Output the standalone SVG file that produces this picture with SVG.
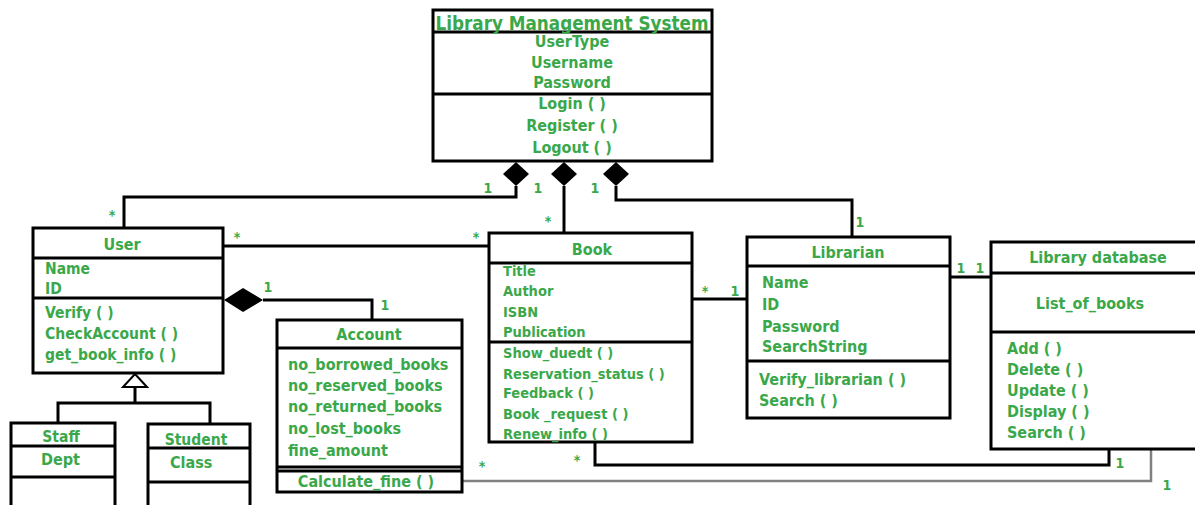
<svg xmlns="http://www.w3.org/2000/svg" width="1195" height="505" viewBox="0 0 1195 505">
<style>
.box{fill:#fff;stroke:#000;stroke-width:3}
.dv{stroke:#000;stroke-width:3}
.t{font-family:"DejaVu Sans Condensed","DejaVu Sans",sans-serif;font-weight:bold;font-size:16px;fill:#3aa84a}
.c{text-anchor:middle}
.m{font-size:14px}
.s{font-size:15.5px}
.b{font-size:14.5px}
.conn{fill:none;stroke:#000;stroke-width:3}
.gray{fill:none;stroke:#808080;stroke-width:2.5}
.dia{fill:#000}
.tri{fill:#fff;stroke:#000;stroke-width:2}
</style>
<rect width="1195" height="505" fill="#fff"/>
<g id="connectors">
<path class="conn" d="M516,186 V197 H124 V228"/>
<path class="conn" d="M564,186 V233"/>
<path class="conn" d="M616,186 V200 H852 V237"/>
<path class="conn" d="M223,246 H489"/>
<path class="conn" d="M263,300 H372 V320"/>
<path class="conn" d="M692,299 H747"/>
<path class="conn" d="M950,277 H991"/>
<path class="conn" d="M595,442 V465 H1109 V450"/>
<path class="gray" d="M462,481 H1151 V450"/>
<path class="conn" d="M135,387 V403"/>
<path class="conn" d="M58,423 V403 H210 V424"/>
<path class="dia" d="M516,162 L529,174 L516,186 L503,174 Z"/>
<path class="dia" d="M564,162 L577,174 L564,186 L551,174 Z"/>
<path class="dia" d="M616,162 L629,174 L616,186 L603,174 Z"/>
<path class="dia" d="M224,300 L243,288 L263,300 L243,312 Z"/>
<path class="tri" d="M135,374 L147,387 L123,387 Z"/>
<g class="t m c">
<text x="112" y="220">*</text>
<text x="488" y="193">1</text>
<text x="538" y="193">1</text>
<text x="595" y="193">1</text>
<text x="548" y="226">*</text>
<text x="860" y="227">1</text>
<text x="237" y="242">*</text>
<text x="476" y="242">*</text>
<text x="268" y="292">1</text>
<text x="385" y="310">1</text>
<text x="705" y="296">*</text>
<text x="735" y="296">1</text>
<text x="961" y="273">1</text>
<text x="980" y="273">1</text>
<text x="1120" y="468">1</text>
<text x="1167" y="490">1</text>
<text x="482" y="471">*</text>
<text x="577" y="465">*</text>
</g>
</g>
<g id="lms">
<rect class="box" x="433" y="10" width="279" height="151"/>
<line class="dv" x1="433" y1="32" x2="712" y2="32"/>
<line class="dv" x1="433" y1="94" x2="712" y2="94"/>
<g class="t c">
<text x="572" y="30" font-size="18.7">Library Management System</text>
<text x="572" y="47">UserType</text>
<text x="572" y="68">Username</text>
<text x="572" y="88">Password</text>
<text x="572" y="109">Login ( )</text>
<text x="572" y="131">Register ( )</text>
<text x="572" y="153">Logout ( )</text>
</g>
</g>
<g id="user">
<rect class="box" x="33" y="228" width="190" height="145"/>
<line class="dv" x1="33" y1="258" x2="223" y2="258"/>
<line class="dv" x1="33" y1="298" x2="223" y2="298"/>
<text class="t c" x="122" y="250" font-size="20">User</text>
<g class="t s">
<text x="45" y="274">Name</text>
<text x="45" y="294">ID</text>
<text x="45" y="318">Verify ( )</text>
<text x="45" y="339">CheckAccount ( )</text>
<text x="45" y="360">get_book_info ( )</text>
</g>
</g>
<g id="staff">
<rect class="box" x="11" y="423" width="104" height="95"/>
<line class="dv" x1="11" y1="446" x2="115" y2="446"/>
<line class="dv" x1="11" y1="477" x2="115" y2="477"/>
<text class="t s c" x="61" y="442">Staff</text>
<text class="t" x="41" y="465">Dept</text>
</g>
<g id="student">
<rect class="box" x="148" y="424" width="102" height="95"/>
<line class="dv" x1="148" y1="448" x2="250" y2="448"/>
<line class="dv" x1="148" y1="482" x2="250" y2="482"/>
<text class="t s c" x="196" y="445">Student</text>
<text class="t" x="170" y="468">Class</text>
</g>
<g id="account">
<rect class="box" x="277" y="320" width="185" height="172"/>
<line class="dv" x1="277" y1="348" x2="462" y2="348"/>
<line class="dv" x1="277" y1="467" x2="462" y2="467"/>
<line class="dv" x1="277" y1="471" x2="462" y2="471"/>
<text class="t c" x="369" y="340" font-size="18.5">Account</text>
<g class="t">
<text x="288" y="370">no_borrowed_books</text>
<text x="288" y="391">no_reserved_books</text>
<text x="288" y="412">no_returned_books</text>
<text x="288" y="434">no_lost_books</text>
<text x="288" y="456">fine_amount</text>
</g>
<text class="t c" x="366" y="487" font-size="15.7">Calculate_fine ( )</text>
</g>
<g id="book">
<rect class="box" x="489" y="233" width="203" height="209"/>
<line class="dv" x1="489" y1="263" x2="692" y2="263"/>
<line class="dv" x1="489" y1="342" x2="692" y2="342"/>
<text class="t c" x="592" y="255" font-size="22">Book</text>
<g class="t b">
<text x="503" y="276">Title</text>
<text x="503" y="296">Author</text>
<text x="503" y="317">ISBN</text>
<text x="503" y="337">Publication</text>
<text x="503" y="358">Show_duedt ( )</text>
<text x="503" y="379">Reservation_status ( )</text>
<text x="503" y="398">Feedback ( )</text>
<text x="503" y="419">Book _request ( )</text>
<text x="503" y="439">Renew_info ( )</text>
</g>
</g>
<g id="librarian">
<rect class="box" x="747" y="237" width="203" height="181"/>
<line class="dv" x1="747" y1="266" x2="950" y2="266"/>
<line class="dv" x1="747" y1="361" x2="950" y2="361"/>
<text class="t c" x="848" y="258" font-size="17">Librarian</text>
<g class="t">
<text x="762" y="288">Name</text>
<text x="762" y="310">ID</text>
<text x="762" y="332">Password</text>
<text x="762" y="352">SearchString</text>
<text x="759" y="385">Verify_librarian ( )</text>
<text x="759" y="406">Search ( )</text>
</g>
</g>
<g id="library-database">
<rect class="box" x="991" y="242" width="220" height="207"/>
<line class="dv" x1="991" y1="273" x2="1195" y2="273"/>
<line class="dv" x1="991" y1="332" x2="1195" y2="332"/>
<text class="t c" x="1098" y="263" font-size="19">Library database</text>
<text class="t c" x="1090" y="309" font-size="20">List_of_books</text>
<g class="t">
<text x="1007" y="354">Add ( )</text>
<text x="1007" y="375">Delete ( )</text>
<text x="1007" y="396">Update ( )</text>
<text x="1007" y="417">Display ( )</text>
<text x="1007" y="438">Search ( )</text>
</g>
</g>
</svg>
